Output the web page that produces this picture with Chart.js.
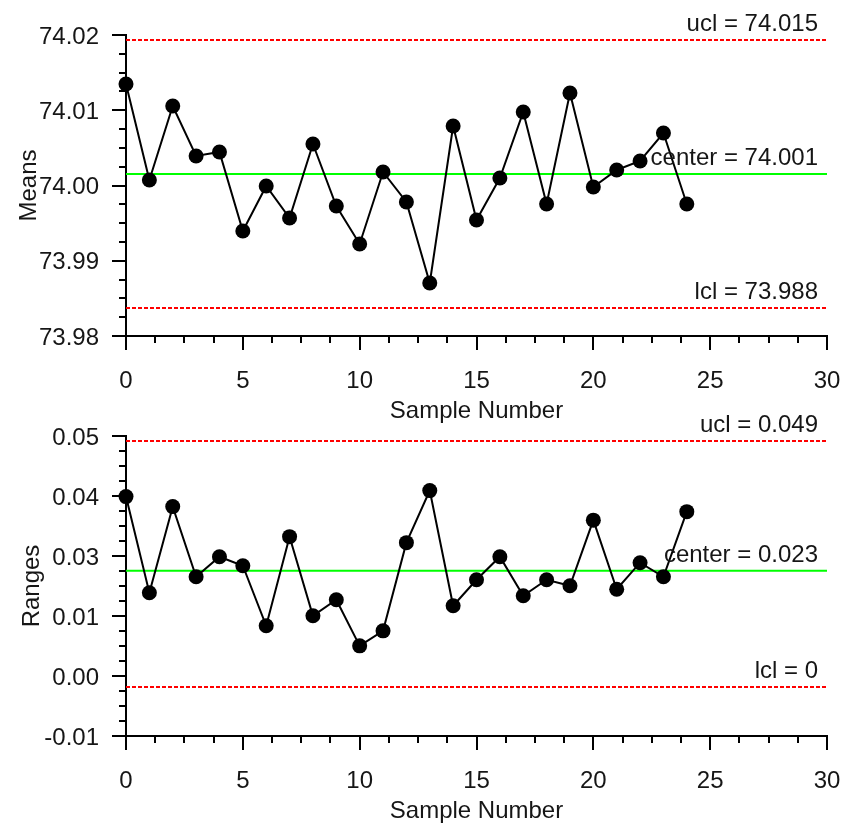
<!DOCTYPE html>
<html>
<head>
<meta charset="utf-8">
<title>X-bar and R control charts</title>
<script src="https://cdn.jsdelivr.net/npm/chart.js@4.4.1/dist/chart.umd.min.js"></script>
<style>
  html, body { margin: 0; padding: 0; background: #ffffff; }
  #wrap { position: relative; width: 844px; height: 825px; overflow: hidden; }
  #wrap canvas { position: absolute; left: 0; }
  #meansChart { top: 0; }
  #rangesChart { top: 392px; }
</style>
</head>
<body>
<div id="wrap">
  <canvas id="meansChart" width="844" height="427"></canvas>
  <canvas id="rangesChart" width="844" height="435"></canvas>
</div>
<script>
// ---- data ----
const sampleNumbers = [0, 1, 2, 3, 4, 5, 6, 7, 8, 9, 10, 11, 12, 13, 14, 15, 16, 17, 18, 19, 20, 21, 22, 23, 24];

const sampleMeans = [
  74.0102, 74.0006, 74.0080, 74.0030, 74.0034, 73.9955, 74.0000, 73.9968, 74.0042, 73.9980,
  73.9942, 74.0014, 73.9984, 73.9903, 74.0060, 73.9966, 74.0008, 74.0074, 73.9982, 74.0093,
  73.9999, 74.0016, 74.0025, 74.0053, 73.9982
];

const sampleRanges = [
  0.0380, 0.0188, 0.0360, 0.0220, 0.0260, 0.0242, 0.0122, 0.0300, 0.0142, 0.0174,
  0.0082, 0.0112, 0.0288, 0.0392, 0.0162, 0.0214, 0.0260, 0.0182, 0.0214, 0.0202,
  0.0333, 0.0195, 0.0248, 0.0220, 0.0350
];

// control limits: [ucl, center, lcl]
const meansLimits = [74.0146, 74.0012, 73.9878];
const rangesLimits = [0.0491, 0.0232, 0];

// axis extents and the labels printed at their evenly spaced ticks
const meansAxis = [73.9850, 74.0151];
const rangesAxis = [-0.0098, 0.0501];
const meansTickLabels = ['73.98', '73.99', '74.00', '74.01', '74.02'];
const rangesTickLabels = ['-0.01', '0.00', '0.01', '0.03', '0.04', '0.05'];
const sampleTicks = [0, 5, 10, 15, 20, 25, 30];

// ---- styling ----
const FAMILY = "'Liberation Sans', Arial, Helvetica, sans-serif";
const FONT = { family: FAMILY, size: 24 };
const INK = '#161616';
const AXIS = '#000000';
const X_AXIS_HEIGHT = 91;

Chart.defaults.font.family = FAMILY;
Chart.defaults.color = INK;

function fmtLimit(v) {
  return String(parseFloat(v.toFixed(3)));
}

// small unlabeled ticks between the major ones
const minorTicks = {
  id: 'minorTicks',
  afterDraw(chart) {
    const { ctx } = chart;
    const xs = chart.scales.x, ys = chart.scales.y;
    const len = 7, div = 4;
    ctx.save();
    ctx.strokeStyle = AXIS;
    ctx.lineWidth = 2;
    const xv = xs.ticks.map(t => t.value);
    for (let i = 0; i < xv.length - 1; i++) {
      for (let k = 1; k < div; k++) {
        const px = Math.round(xs.getPixelForValue(xv[i] + (xv[i + 1] - xv[i]) * k / div));
        ctx.beginPath();
        ctx.moveTo(px, xs.top);
        ctx.lineTo(px, xs.top + len);
        ctx.stroke();
      }
    }
    const yv = ys.ticks.map(t => t.value);
    for (let i = 0; i < yv.length - 1; i++) {
      for (let k = 1; k < div; k++) {
        const py = Math.round(ys.getPixelForValue(yv[i] + (yv[i + 1] - yv[i]) * k / div));
        ctx.beginPath();
        ctx.moveTo(ys.right, py);
        ctx.lineTo(ys.right - len, py);
        ctx.stroke();
      }
    }
    ctx.restore();
  }
};

// "ucl = ..." style captions above each control line
const limitCaptions = {
  id: 'limitCaptions',
  afterDatasetsDraw(chart) {
    const { ctx, chartArea } = chart;
    const ys = chart.scales.y;
    ctx.save();
    ctx.font = `24px ${FAMILY}`;
    ctx.fillStyle = INK;
    ctx.textAlign = 'right';
    ctx.textBaseline = 'alphabetic';
    chart.data.datasets.forEach(ds => {
      if (!ds.limitName) return;
      const v = ds.data[0].y;
      const py = ys.getPixelForValue(v);
      ctx.fillText(`${ds.limitName} = ${fmtLimit(v)}`, chartArea.right - 9, py - 9);
    });
    ctx.restore();
  }
};

function limitLine(name, value, color, dash) {
  const x0 = sampleTicks[0], x1 = sampleTicks[sampleTicks.length - 1];
  return {
    label: name,
    limitName: name,
    data: [{ x: x0, y: value }, { x: x1, y: value }],
    borderColor: color,
    borderWidth: 2,
    borderDash: dash,
    pointRadius: 0,
    clip: false
  };
}

function controlChart(canvasId, values, limits, axis, tickLabels, yTitle, padTop, titlePad) {
  const [ucl, center, lcl] = limits;
  const [yMin, yMax] = axis;
  const canvas = document.getElementById(canvasId);

  return new Chart(canvas, {
    type: 'line',
    data: {
      datasets: [
        {
          label: yTitle,
          data: sampleNumbers.map((x, i) => ({ x, y: values[i] })),
          borderColor: '#000000',
          borderWidth: 2,
          pointRadius: 7.5,
          pointHoverRadius: 7.5,
          pointBackgroundColor: '#000000',
          pointBorderWidth: 0,
          tension: 0,
          clip: false
        },
        limitLine('ucl', ucl, '#ff0000', [4, 2]),
        limitLine('center', center, '#00ff00', []),
        limitLine('lcl', lcl, '#ff0000', [4, 2])
      ]
    },
    options: {
      responsive: false,
      animation: false,
      devicePixelRatio: 1,
      layout: { padding: { top: padTop, right: 17, left: 0, bottom: 0 } },
      plugins: {
        legend: { display: false },
        tooltip: { enabled: false },
        title: { display: false }
      },
      scales: {
        x: {
          type: 'linear',
          min: sampleTicks[0],
          max: sampleTicks[sampleTicks.length - 1],
          afterBuildTicks: s => { s.ticks = sampleTicks.map(v => ({ value: v })); },
          afterFit: s => {
            s.height = X_AXIS_HEIGHT;
            s.paddingLeft = 0;
            s.paddingRight = 0;
          },
          ticks: {
            font: FONT,
            color: INK,
            padding: 17,
            maxRotation: 0,
            autoSkip: false,
            callback: v => String(v)
          },
          grid: {
            display: true,
            drawOnChartArea: false,
            drawTicks: true,
            tickLength: 14,
            tickWidth: 2,
            tickColor: AXIS,
            lineWidth: 2,
            color: AXIS
          },
          border: { display: true, color: AXIS, width: 2 },
          title: {
            display: true,
            text: 'Sample Number',
            font: FONT,
            color: INK,
            padding: { top: 0, bottom: 1 }
          }
        },
        y: {
          type: 'linear',
          min: yMin,
          max: yMax,
          afterBuildTicks: s => {
            s.ticks = tickLabels.map((_, i) => ({ value: yMin + (yMax - yMin) * i / (tickLabels.length - 1) }));
          },
          afterFit: s => { s.width = 126; },
          ticks: {
            font: FONT,
            color: INK,
            padding: 13,
            labelOffset: 2,
            autoSkip: false,
            callback: (v, i) => tickLabels[i]
          },
          grid: {
            display: true,
            drawOnChartArea: false,
            drawTicks: true,
            tickLength: 14,
            tickWidth: 2,
            tickColor: AXIS,
            lineWidth: 2,
            color: AXIS
          },
          border: { display: true, color: AXIS, width: 2 },
          title: {
            display: true,
            text: yTitle,
            font: FONT,
            color: INK,
            padding: { top: titlePad, bottom: 0 }
          }
        }
      }
    },
    plugins: [minorTicks, limitCaptions]
  });
}

controlChart('meansChart', sampleMeans, meansLimits, meansAxis, meansTickLabels, 'Means', 35, 15);
controlChart('rangesChart', sampleRanges, rangesLimits, rangesAxis, rangesTickLabels, 'Ranges', 44, 18);
</script>
</body>
</html>
